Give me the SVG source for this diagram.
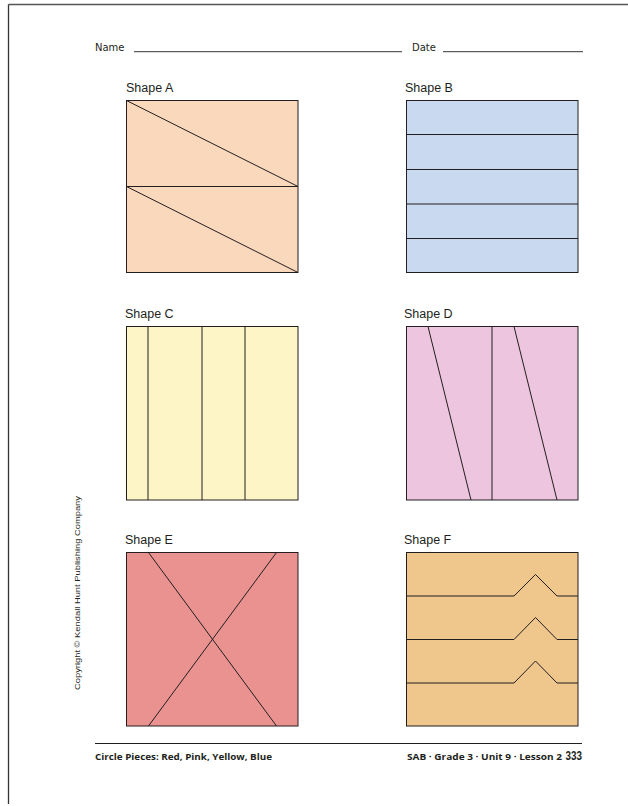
<svg xmlns="http://www.w3.org/2000/svg" width="628" height="806" viewBox="0 0 628 806">
<style>
.lbl{font-family:"Liberation Sans",Arial,sans-serif;font-size:12.5px;fill:#231f20}
.hdr{font-family:"DejaVu Sans",sans-serif;font-size:10px;fill:#231f20}
.ft{font-family:"Open Sans","DejaVu Sans",sans-serif;font-weight:bold;font-size:8.6px;fill:#231f20}
.shape{stroke:#231f20;stroke-width:1}
.ln{stroke:#231f20;stroke-width:1;fill:none}
.rule{stroke:#231f20;stroke-width:0.9}
</style>
<rect width="628" height="806" fill="#ffffff"/>
<g id="border">
<line x1="8.5" y1="4.5" x2="628" y2="4.5" stroke="#555" stroke-width="1.3"/>
<line x1="8.5" y1="4.5" x2="8.5" y2="804" stroke="#333" stroke-width="1.3"/>
</g>
<g id="header">
<text class="hdr" x="95" y="51">Name</text>
<line class="rule" x1="134" y1="51.7" x2="402" y2="51.7"/>
<text class="hdr" x="412" y="51">Date</text>
<line class="rule" x1="443" y1="51.7" x2="583" y2="51.7"/>
</g>
<g id="shapeA">
<text class="lbl" x="126" y="91.5">Shape A</text>
<rect class="shape" x="126.5" y="100.5" width="171.5" height="172" fill="#fad8bc"/>
<line class="ln" x1="126.5" y1="186.5" x2="298" y2="186.5"/>
<line class="ln" x1="126.5" y1="100.5" x2="298" y2="186.5"/>
<line class="ln" x1="126.5" y1="186.5" x2="298" y2="272.5"/>
</g>
<g id="shapeB">
<text class="lbl" x="405" y="91.5">Shape B</text>
<rect class="shape" x="406.5" y="100.5" width="171.5" height="172" fill="#c9d9ef"/>
<line class="ln" x1="406.5" y1="134.5" x2="578" y2="134.5"/>
<line class="ln" x1="406.5" y1="169.5" x2="578" y2="169.5"/>
<line class="ln" x1="406.5" y1="204" x2="578" y2="204"/>
<line class="ln" x1="406.5" y1="238.5" x2="578" y2="238.5"/>
</g>
<g id="shapeC">
<text class="lbl" x="125" y="317.5">Shape C</text>
<rect class="shape" x="126.5" y="326.5" width="171.5" height="173.5" fill="#fef5c6"/>
<line class="ln" x1="148" y1="326.5" x2="148" y2="500"/>
<line class="ln" x1="202" y1="326.5" x2="202" y2="500"/>
<line class="ln" x1="245" y1="326.5" x2="245" y2="500"/>
</g>
<g id="shapeD">
<text class="lbl" x="404" y="317.5">Shape D</text>
<rect class="shape" x="406.5" y="326.5" width="171.5" height="173.5" fill="#edc5de"/>
<line class="ln" x1="492" y1="326.5" x2="492" y2="500"/>
<line class="ln" x1="428" y1="326.5" x2="471" y2="500"/>
<line class="ln" x1="514" y1="326.5" x2="557" y2="500"/>
</g>
<g id="shapeE">
<text class="lbl" x="125" y="543.5">Shape E</text>
<rect class="shape" x="126.5" y="552.5" width="171.5" height="173.5" fill="#e99290"/>
<line class="ln" x1="148.5" y1="552.5" x2="276.5" y2="726"/>
<line class="ln" x1="276.5" y1="552.5" x2="148.5" y2="726"/>
</g>
<g id="shapeF">
<text class="lbl" x="404" y="543.5">Shape F</text>
<rect class="shape" x="406.5" y="552.5" width="171.5" height="173.5" fill="#efc68c"/>
<polyline class="ln" points="406.5,596 514,596 535.5,574.5 557,596 578,596"/>
<polyline class="ln" points="406.5,639.5 514,639.5 535.5,617.5 557,639.5 578,639.5"/>
<polyline class="ln" points="406.5,683 514,683 535.5,661 557,683 578,683"/>
</g>
<g id="copyright">
<text transform="translate(80,690) rotate(-90)" font-family="Liberation Sans,Arial,sans-serif" font-size="8" fill="#231f20" textLength="194" lengthAdjust="spacingAndGlyphs">Copyright © Kendall Hunt Publishing Company</text>
</g>
<g id="footer">
<line x1="95" y1="743.5" x2="582" y2="743.5" stroke="#231f20" stroke-width="1"/>
<text class="ft" x="95" y="760" textLength="177" lengthAdjust="spacingAndGlyphs">Circle Pieces: Red, Pink, Yellow, Blue</text>
<text class="ft" x="407" y="760" textLength="155" lengthAdjust="spacingAndGlyphs">SAB · Grade 3 · Unit 9 · Lesson 2</text>
<text x="565.5" y="760" font-family="Liberation Sans,Arial,sans-serif" font-weight="bold" font-size="12.5" fill="#231f20" textLength="16.5" lengthAdjust="spacingAndGlyphs">333</text>
</g>
</svg>
